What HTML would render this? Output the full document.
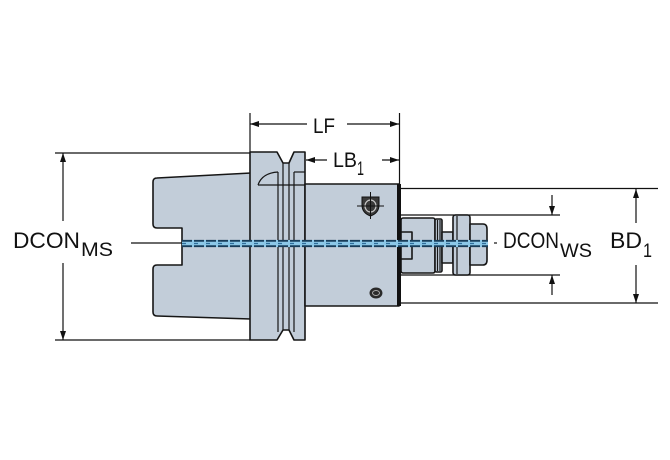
<!DOCTYPE html>
<html><head><meta charset="utf-8"><style>
html,body{margin:0;padding:0;background:#fff;}
svg{display:block;}
text{font-family:"Liberation Sans",Arial,sans-serif;fill:#111;}
</style></head><body>
<svg width="670" height="460" viewBox="0 0 670 460" xmlns="http://www.w3.org/2000/svg">
<g stroke="#111" stroke-width="1.2" fill="none">
<!-- LF dimension -->
<line x1="250" y1="113" x2="250" y2="152"/>
<line x1="399.5" y1="113" x2="399.5" y2="184"/>
<line x1="250" y1="124" x2="307" y2="124"/>
<line x1="347" y1="124" x2="399" y2="124"/>
<!-- LB1 -->
<line x1="306" y1="160" x2="327" y2="160"/>
<line x1="382" y1="160" x2="399" y2="160"/>
<!-- DCON_MS -->
<line x1="55" y1="153" x2="250" y2="153"/>
<line x1="55" y1="340" x2="250" y2="340"/>
<line x1="63" y1="153" x2="63" y2="221"/>
<line x1="63" y1="263" x2="63" y2="340"/>
<line x1="131" y1="243" x2="183" y2="243"/>
<!-- BD1 -->
<line x1="401" y1="188.5" x2="658" y2="188.5"/>
<line x1="401" y1="303" x2="658" y2="303"/>
<line x1="636" y1="189" x2="636" y2="223"/>
<line x1="636" y1="265" x2="636" y2="303"/>
<!-- DCON_WS -->
<line x1="401" y1="215" x2="560" y2="215"/>
<line x1="401" y1="275" x2="560" y2="275"/>
<line x1="552" y1="195" x2="552" y2="215"/>
<line x1="552" y1="275" x2="552" y2="295"/>
<line x1="494" y1="243" x2="497" y2="243"/>
</g>
<!-- arrowheads -->
<g fill="#111">
<polygon points="250,124 259,121 259,127"/>
<polygon points="399,124 390,121 390,127"/>
<polygon points="306,160 315,157 315,163"/>
<polygon points="399,160 390,157 390,163"/>
<polygon points="63,153 60,162 66,162"/>
<polygon points="63,340 60,331 66,331"/>
<polygon points="636,189 633,198 639,198"/>
<polygon points="636,303 633,294 639,294"/>
<polygon points="552,215 549,206 555,206"/>
<polygon points="552,275 549,284 555,284"/>
</g>

<!-- part -->
<g stroke="#161616" stroke-width="1.6" fill="#c2cdd9" stroke-linejoin="round">
<!-- taper -->
<path d="M251,173 L157,178 Q153,178 153,182 L153,224 Q153,228 157,228 L182,228 L182,265 L157,265 Q153,265 153,269 L153,312 Q153,316 157,316 L251,319 Z"/>
<!-- flange -->
<path d="M250,152 L277,152 L283,163 L289,163 L294,152 L305,152 L305,340 L294,340 L289,330 L283,330 L277,340 L250,340 Z"/>
<!-- body -->
<rect x="305" y="184" width="94" height="122"/>
<!-- collet parts -->
<rect x="401" y="218" width="34" height="55" rx="2"/>
<rect x="401" y="232" width="11" height="27"/>
<rect x="435" y="219" width="7" height="53" rx="1.5"/>
<rect x="442" y="232" width="11" height="31"/>
<rect x="453" y="215" width="17" height="60" rx="2.5"/>
<path d="M470,224 L483,224 Q487,224 487,229 L487,260 Q487,265 483,265 L470,265 Z"/>
</g>
<g stroke="#161616" stroke-width="1.2" fill="none">
<line x1="278" y1="172" x2="278" y2="332"/>
<line x1="283" y1="163" x2="283" y2="330"/>
<line x1="289" y1="163" x2="289" y2="330"/>
<line x1="294" y1="172" x2="294" y2="332"/>
<line x1="294" y1="172" x2="305" y2="172"/>
<line x1="258" y1="185" x2="305" y2="185"/>
<path d="M258,185 Q262,173 278,172" fill="#c2cdd9"/>
<line x1="437.5" y1="220" x2="437.5" y2="271"/>
<line x1="440" y1="220" x2="440" y2="271"/>
<line x1="457" y1="216" x2="457" y2="274"/>
</g>
<!-- dark right edge of body -->
<rect x="397" y="184" width="4" height="122" fill="#111"/>

<!-- centerline -->
<rect x="182" y="240" width="306" height="7" fill="#8cc8e8"/>
<g stroke="#183d5a" stroke-width="1.8" fill="none">
<line x1="182" y1="240.8" x2="488" y2="240.8" stroke-dasharray="10 2"/>
<line x1="182" y1="246.2" x2="488" y2="246.2" stroke-dasharray="10 2"/>
<line x1="182" y1="243.5" x2="488" y2="243.5" stroke-dasharray="4 8" stroke="#2f6f9c" stroke-width="1.2"/>
</g>

<!-- screws -->
<g>
<path d="M362,197 L379,197 L379,205 Q379,213 370.5,216 Q362,213 362,205 Z" fill="#3a3a3a" stroke="#111" stroke-width="1"/>
<ellipse cx="370.5" cy="206" rx="5.5" ry="6" fill="none" stroke="#c8c8c8" stroke-width="1.2"/>
<line x1="357" y1="206" x2="384" y2="206" stroke="#111" stroke-width="1"/>
<line x1="370.5" y1="192" x2="370.5" y2="219" stroke="#111" stroke-width="1"/>
<ellipse cx="376" cy="293" rx="6.5" ry="5.5" fill="#2a2a2a"/>
<ellipse cx="376" cy="293" rx="3.5" ry="2.5" fill="none" stroke="#aaa" stroke-width="1"/>
</g>

<!-- labels -->
<text x="313" y="133" font-size="21" textLength="22" lengthAdjust="spacingAndGlyphs">LF</text>
<text x="333" y="167" font-size="21" textLength="24" lengthAdjust="spacingAndGlyphs">LB</text>
<text x="357" y="175" font-size="19" textLength="7" lengthAdjust="spacingAndGlyphs">1</text>
<text x="13" y="248" font-size="22" textLength="67" lengthAdjust="spacingAndGlyphs">DCON</text>
<text x="81" y="256" font-size="19" textLength="32" lengthAdjust="spacingAndGlyphs">MS</text>
<text x="503" y="248" font-size="22" textLength="56" lengthAdjust="spacingAndGlyphs">DCON</text>
<text x="560" y="257" font-size="19" textLength="32" lengthAdjust="spacingAndGlyphs">WS</text>
<text x="610" y="248" font-size="22" textLength="32" lengthAdjust="spacingAndGlyphs">BD</text>
<text x="643" y="257" font-size="19" textLength="9" lengthAdjust="spacingAndGlyphs">1</text>
</svg>
</body></html>
